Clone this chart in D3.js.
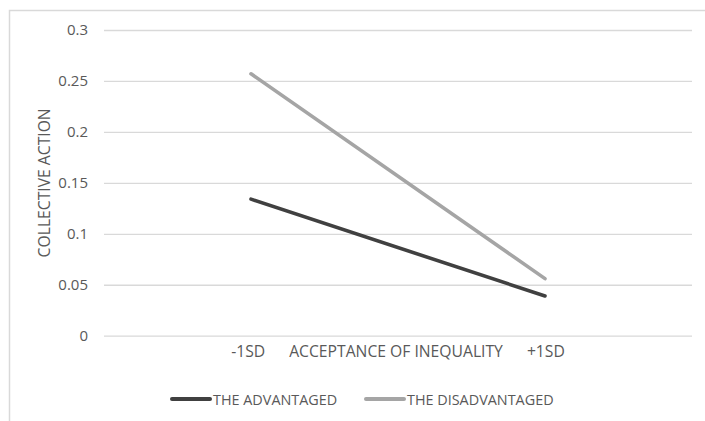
<!DOCTYPE html>
<html>
<head>
<meta charset="utf-8">
<script src="https://cdn.jsdelivr.net/npm/d3@7"></script>
<style>
  html, body { margin: 0; padding: 0; background: #fff; }
  svg { display: block; }
  text { font-family: "Open Sans", sans-serif; fill: #595959; }
</style>
</head>
<body>
<svg id="chart" width="705" height="421"></svg>
<script>
// ---- data ----
const seriesNames = ["THE ADVANTAGED", "THE DISADVANTAGED"];
const xValues = [-1, 1];
const advantaged = [0.134, 0.039];
const disadvantaged = [0.257, 0.056];
const yTickValues = [0, 0.05, 0.1, 0.15, 0.2, 0.25, 0.3];
const yTickLabels = ["0", "0.05", "0.1", "0.15", "0.2", "0.25", "0.3"];
const xTitleParts = ["-1SD", "ACCEPTANCE OF INEQUALITY", "+1SD"];
const yTitle = "COLLECTIVE ACTION";
const colors = ["#404040", "#a5a5a5"];

// ---- layout ----
const svg = d3.select("#chart");
const pLeft = 104, pRight = 692, pTop = 30, pBottom = 335.7;

// outer frame (clipped by the page)
svg.append("rect")
  .attr("x", 9.5).attr("y", 10.5)
  .attr("width", 720).attr("height", 440)
  .attr("fill", "none").attr("stroke", "#d9d9d9").attr("stroke-width", 1.5);

const x = d3.scaleLinear().domain([-2, 2]).range([pLeft, pRight]);
const y = d3.scaleLinear().domain([0, 0.3]).range([pBottom, pTop]);

// y axis with gridlines
const yAxis = d3.axisLeft(y)
  .tickValues(yTickValues)
  .tickFormat((d, i) => yTickLabels[i])
  .tickSize(-(pRight - pLeft))
  .tickPadding(16);

const gy = svg.append("g").attr("transform", `translate(${pLeft},0)`).call(yAxis);
gy.select(".domain").remove();
gy.selectAll(".tick line").attr("stroke", "#d9d9d9").attr("stroke-width", 1.3);
gy.selectAll(".tick text")
  .attr("font-size", 15)
  .attr("fill", "#595959")
  .attr("font-family", "Open Sans, sans-serif");

// y title
svg.append("text")
  .attr("transform", `translate(50,${(pTop + pBottom) / 2}) rotate(-90)`)
  .attr("text-anchor", "middle")
  .attr("font-size", 15.7)
  .text(yTitle);

// x title with the SD markers
const xt = svg.append("text")
  .attr("x", (pLeft + pRight) / 2)
  .attr("y", 356.5)
  .attr("text-anchor", "middle")
  .attr("font-size", 15.7);
xTitleParts.forEach((p, i) => {
  xt.append("tspan").attr("dx", i === 0 ? 0 : 24).text(p);
});

// lines
const series = [advantaged, disadvantaged];
const line = d3.line().x((d, i) => x(xValues[i])).y(d => y(d));
series.forEach((vals, s) => {
  svg.append("path")
    .datum(vals)
    .attr("d", line)
    .attr("fill", "none")
    .attr("stroke", colors[s])
    .attr("stroke-width", 3.6)
    .attr("stroke-linecap", "round");
});

// legend
const legendItems = [
  { x: 172, name: seriesNames[0], color: colors[0] },
  { x: 366, name: seriesNames[1], color: colors[1] }
];
legendItems.forEach(it => {
  svg.append("line")
    .attr("x1", it.x).attr("x2", it.x + 38)
    .attr("y1", 399).attr("y2", 399)
    .attr("stroke", it.color).attr("stroke-width", 4)
    .attr("stroke-linecap", "round");
  svg.append("text")
    .attr("x", it.x + 41).attr("y", 404.5)
    .attr("font-size", 14.4)
    .text(it.name);
});
</script>
</body>
</html>
